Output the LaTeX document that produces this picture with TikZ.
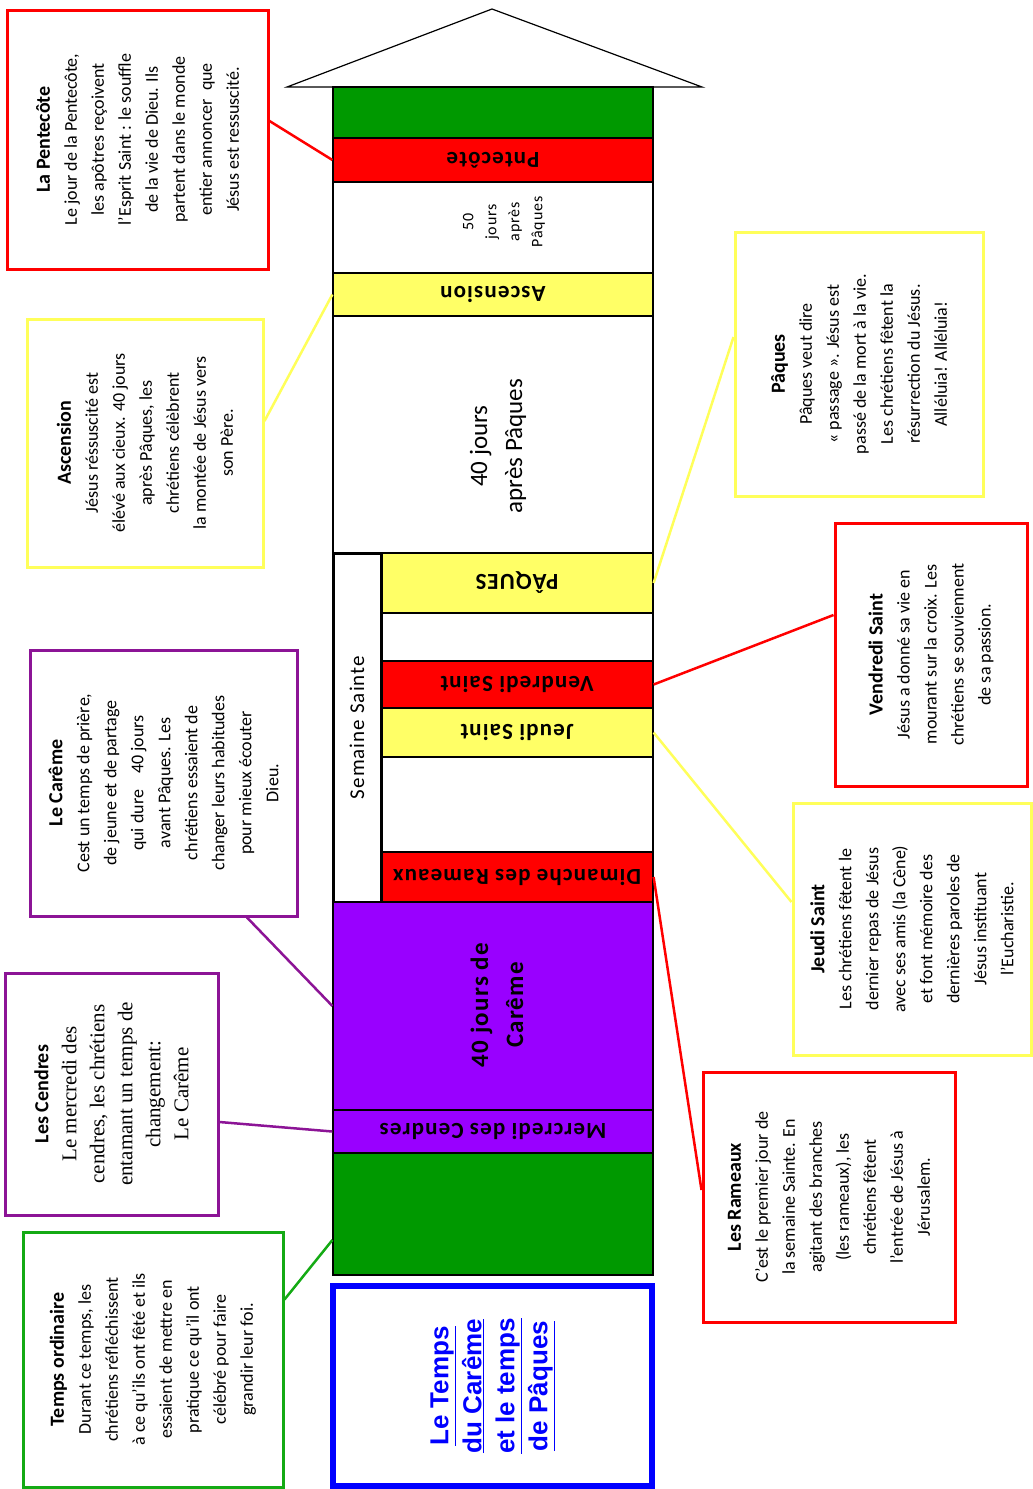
\documentclass[tikz,border=0pt]{standalone}
\usepackage{fontspec}
\setmainfont{Carlito}
\newfontfamily\serifcal{Liberation Serif}
\newfontfamily\arialf{Liberation Sans}
\newfontfamily\bandf[LetterSpace=5]{Carlito}
\usepackage{xcolor}
\usepackage{tikz}
\usetikzlibrary{calc}

\definecolor{vert}{RGB}{0,153,0}
\definecolor{rouge}{RGB}{255,0,0}
\definecolor{jaune}{RGB}{255,255,102}
\definecolor{jauneb}{RGB}{255,255,90}
\definecolor{violet}{RGB}{153,0,255}
\definecolor{prune}{RGB}{140,20,150}
\definecolor{vertb}{RGB}{20,170,20}
\definecolor{bleu}{RGB}{0,0,255}

\begin{document}
\begin{tikzpicture}[x=1pt,y=-1pt,
    band/.style={draw=black, line width=1.2pt, minimum width=320pt, inner sep=0pt},
    short/.style={band, minimum width=272pt},
    upside/.style={rotate=180, font=\bandf\bfseries\fontsize{23}{26}\selectfont},
    callout/.style={draw, line width=3pt, rotate=90, align=center, inner sep=0pt, fill=white, font=\fontsize{18}{27}\selectfont},
    link/.style={line width=2.5pt}]
    \useasboundingbox (0,0) rectangle (1033,1489);
    % toit
    \draw[line width=1.2pt, fill=white] (287,87) -- (492,9) -- (702,87) -- cycle;
    % colonne
    \node[band, fill=vert, minimum height=51pt] (bVertH) at (493,112.5) {};
    \node[band, fill=rouge, minimum height=44pt] (bPent) at (493,160) {};
    \node[upside] (tPent) at (bPent) {Pntecôte};
    \node[band, fill=white, minimum height=91pt] (bCinq) at (493,227.5) {};
    \node[rotate=90, align=center, font=\bandf\fontsize{16}{23}\selectfont] (tCinq) at (504,222) {50\\jours\\après\\Pâques};
    \node[band, fill=jaune, minimum height=43pt] (bAsc) at (493,294.5) {};
    \node[upside] (tAsc) at (bAsc) {Ascension};
    \node[band, fill=white, minimum height=237pt] (bQuar) at (493,434.5) {};
    \node[rotate=90, align=center, font=\fontsize{25}{35}\selectfont] (tQuar) at (498,446) {40 jours\\après Pâques};
    \node[short, fill=jaune, minimum height=60pt] (bPaq) at (517,583) {};
    \node[upside] (tPaq) at (bPaq) {PÂQUES};
    \node[short, fill=white, minimum height=48pt] (bBlanc) at (517,637) {};
    \node[short, fill=rouge, minimum height=47pt] (bVen) at (517,684.5) {};
    \node[upside] (tVen) at (bVen) {Vendredi Saint};
    \node[short, fill=jaune, minimum height=49pt] (bJeu) at (517,732.5) {};
    \node[upside] (tJeu) at (bJeu) {Jeudi Saint};
    \node[short, fill=white, minimum height=95pt] (bBlancb) at (517,804.5) {};
    \node[short, fill=rouge, minimum height=50pt] (bDim) at (517,877) {};
    \node[upside] (tDim) at (bDim) {Dimanche des Rameaux};
    \node[band, line width=3pt, fill=white, minimum width=48pt, minimum height=349pt] (bSem) at (357,727.5) {};
    \node[rotate=90, font=\bandf\fontsize{21}{24}\selectfont] (tSem) at (bSem) {Semaine Sainte};
    \node[band, fill=violet, minimum height=208pt] (bCar) at (493,1006) {};
    \node[rotate=90, align=center, font=\bandf\bfseries\fontsize{25}{35}\selectfont] (tCar) at (497,1005) {40 jours de\\Carême};
    \node[band, fill=violet, minimum height=43pt] (bMerc) at (493,1131.5) {};
    \node[upside] (tMerc) at (bMerc) {Mercredi des Cendres};
    \node[band, fill=vert, minimum height=122pt] (bVert) at (493,1214) {};
    % titre
    \node[draw=bleu, line width=6pt, minimum width=319pt, minimum height=200pt] (titre) at (492.5,1386) {};
    \node[rotate=90, align=center, text=bleu, font=\arialf\bfseries\fontsize{26}{33}\selectfont] (tTitre) at (titre) {\underline{Le Temps}\\\underline{du Carême}\\\underline{et le temps}\\\underline{de Pâques}};
    % encadres gauche
    \node[callout, draw=rouge, minimum width=259pt, minimum height=261pt] (pente) at (137.5,139.5) {\textbf{\fontsize{20}{27}\selectfont La Pentecôte}\\Le jour de la Pentecôte,\\les apôtres reçoivent\\l'Esprit Saint : le souffle\\de la vie de Dieu. Ils\\partent dans le monde\\entier annoncer~~que\\Jésus est ressuscité.};
    \node[callout, draw=jauneb, minimum width=248pt, minimum height=236pt] (asc) at (145,443) {\textbf{\fontsize{20}{27}\selectfont Ascension}\\Jésus réssuscité est\\élévé aux cieux. 40 jours\\après Pâques, les\\chrétiens célèbrent\\la montée de Jésus vers\\son Père.};
    \node[callout, draw=prune, minimum width=266pt, minimum height=267pt] (car) at (163.5,783) {\textbf{\fontsize{20}{27}\selectfont Le Carême}\\Cest un temps de prière,\\de jeune et de partage\\qui dure~~~~40 jours\\avant Pâques. Les\\chrétiens essaient de\\changer leurs habitudes\\pour mieux écouter\\Dieu.};
    \node[callout, draw=prune, minimum width=242pt, minimum height=213pt, font=\serifcal\fontsize{21}{28}\selectfont] (cen) at (111.5,1094) {{\rmfamily\bfseries\fontsize{20}{28}\selectfont Les Cendres}\\Le mercredi des\\cendres, les chrétiens\\entamant un temps de\\changement:\\Le Carême};
    \node[callout, draw=vertb, minimum width=255pt, minimum height=260pt] (ord) at (153,1359.5) {\textbf{\fontsize{20}{27}\selectfont Temps ordinaire}\\Durant ce temps, les\\chrétiens réfléchissent\\à ce qu'ils ont fêté et ils\\essaient de mettre en\\pratique ce qu'il ont\\célébré pour faire\\grandir leur foi.};
    % encadres droite
    \node[callout, draw=jauneb, minimum width=264pt, minimum height=248pt] (paq) at (859,364) {\textbf{\fontsize{20}{27}\selectfont Pâques}\\Pâques veut dire\\« passage ». Jésus est\\passé de la mort à la vie.\\Les chrétiens fêtent la\\résurrection du Jésus.\\Alléluia! Alléluia!};
    \node[callout, draw=rouge, minimum width=263pt, minimum height=192pt] (ven) at (931,654.5) {\textbf{\fontsize{20}{27}\selectfont Vendredi Saint}\\Jésus a donné sa vie en\\mourant sur la croix. Les\\chrétiens se souviennent\\de sa passion.};
    \node[callout, draw=jauneb, minimum width=252pt, minimum height=238pt] (jeu) at (912,929) {\textbf{\fontsize{20}{27}\selectfont Jeudi Saint}\\Les chrétiens fêtent le\\dernier repas de Jésus\\avec ses amis (la Cène)\\et font mémoire des\\dernières paroles de\\Jésus instituant\\l'Eucharistie.};
    \node[callout, draw=rouge, minimum width=250pt, minimum height=252pt] (ram) at (829,1197) {\textbf{\fontsize{20}{27}\selectfont Les Rameaux}\\C'est le premier jour de\\la semaine Sainte. En\\agitant des branches\\(les rameaux), les\\chrétiens fêtent\\l'entrée de Jésus à\\Jérusalem.};
    % liens
    \draw[link, rouge] ($(pente.south)+(0,-18.5)$) -- (bPent.west);
    \draw[link, jauneb] ($(asc.south)+(0,-22)$) -- (bAsc.west);
    \draw[link, prune] ($(car.west)+(83.5,0)$) -- (bCar.west);
    \draw[link, prune] ($(cen.south)+(0,28)$) -- (bMerc.west);
    \draw[link, vertb] ($(ord.south)+(0,-60)$) -- ($(bVert.west)+(0,26)$);
    \draw[link, jauneb] ($(paq.north)+(0,-27)$) -- (bPaq.east);
    \draw[link, rouge] ($(ven.north)+(0,-39.5)$) -- (bVen.east);
    \draw[link, jauneb] ($(jeu.north)+(0,-27)$) -- (bJeu.east);
    \draw[link, rouge] ($(ram.north)+(0,-7)$) -- (bDim.east);
\end{tikzpicture}
\end{document}
